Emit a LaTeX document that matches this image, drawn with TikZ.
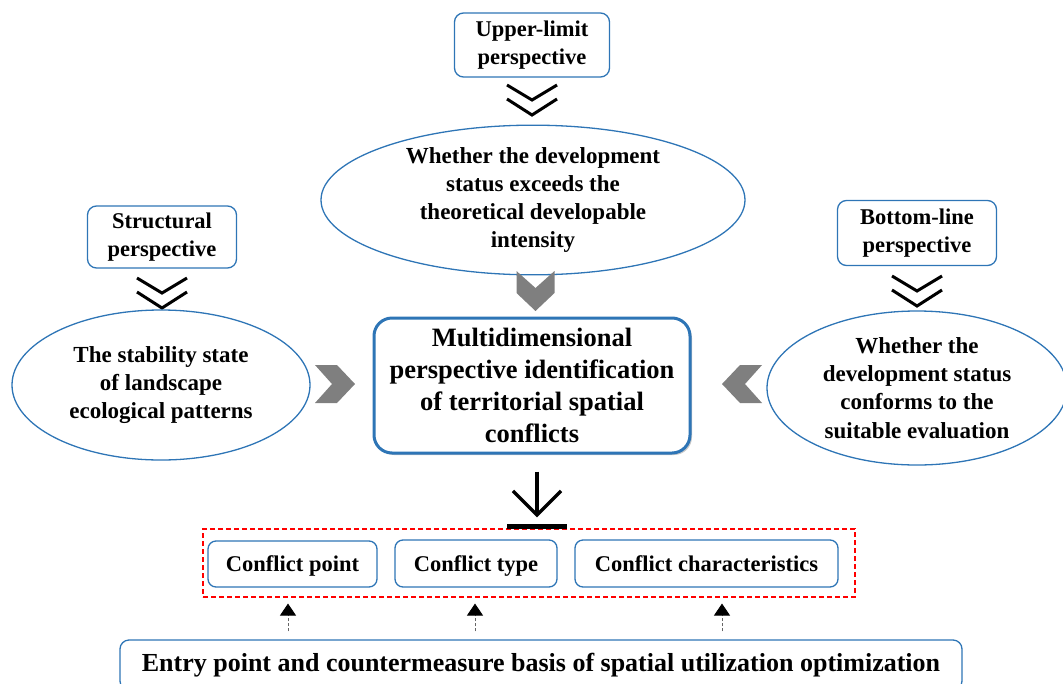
\documentclass[tikz,border=0pt]{standalone}
\usepackage{fontspec}
\setmainfont{Liberation Serif}
\usetikzlibrary{positioning, shapes.geometric, arrows.meta, calc, shadows}
\definecolor{boxblue}{HTML}{2E75B6}
\definecolor{chevgray}{HTML}{7F7F7F}
\definecolor{dashred}{HTML}{FF0000}

\tikzset{
  persbox/.style={draw=boxblue, line width=1.3pt, rounded corners=9pt, align=center,
    font=\fontsize{22.5}{28}\selectfont\bfseries, inner sep=0pt},
  oval/.style={draw=boxblue, ellipse, line width=1.3pt, align=center, inner sep=0pt,
    font=\fontsize{23}{28.3}\selectfont\bfseries},
  mainbox/.style={draw=boxblue, line width=3pt, rounded corners=18pt, align=center, fill=white,
    drop shadow={shadow xshift=2pt, shadow yshift=-2pt, fill=black!35, opacity=0.6},
    font=\fontsize{26.5}{32}\selectfont\bfseries, inner sep=0pt},
  resbox/.style={draw=boxblue, line width=1.3pt, rounded corners=8pt, align=center,
    font=\fontsize{22.5}{26}\selectfont\bfseries, inner sep=0pt, text depth=0pt},
  vee/.style={line width=3pt, black},
  uparrow/.style={densely dashed, black!60, line width=0.8pt,
    -{Triangle[length=12pt, width=16pt, black]}},
  graychev/.pic={\fill[chevgray] (-20,-19) -- (2,-19) -- (20,0) -- (2,19) -- (-20,19) -- (-3,0) -- cycle;}
}
% two stacked vees under a perspective box
\newcommand{\twovee}[2]{%
  \draw[vee] (#1-25,#2) -- (#1,#2+15) -- (#1+25,#2);
  \draw[vee] (#1-25,#2+14) -- (#1,#2+30) -- (#1+25,#2+14);}

\begin{document}
\begin{tikzpicture}[x=1pt, y=-1pt]
  \useasboundingbox (0,0) rectangle (1063,683);
  % perspectives
  \node[persbox, minimum width=155pt, minimum height=64pt] (upper) at (532,45) {Upper-limit\\perspective};
  \node[persbox, minimum width=149pt, minimum height=62pt] (struct) at (162,237) {Structural\\perspective};
  \node[persbox, minimum width=159pt, minimum height=65pt] (bottomline) at (917,233) {Bottom-line\\perspective};
  \twovee{532}{85}
  \twovee{162}{278}
  \twovee{917}{276}
  % ovals
  \node[oval, minimum width=424pt, minimum height=144pt] (exceed) at (533,200)
    {Whether the development\\status exceeds the\\theoretical developable\\intensity};
  \node[oval, minimum width=298pt, minimum height=150pt] (stable) at (161,385)
    {The stability state\\of landscape\\ecological patterns};
  \node[oval, minimum width=300pt, minimum height=154pt] (conform) at (917,388)
    {Whether the\\development status\\conforms to the\\suitable evaluation};
  % centre
  \node[mainbox, minimum width=316pt, minimum height=135pt] (multi) at (532,385.5)
    {Multidimensional\\perspective identification\\of territorial spatial\\conflicts};
  \pic[rotate=-90] at (535.5,291) {graychev};
  \pic at (335,384) {graychev};
  \pic[rotate=180] at (742,384) {graychev};
  % results
  \node[draw=dashred, dash pattern=on 5pt off 3pt, line width=1.1pt, minimum width=652pt, minimum height=68pt] (results) at (529,563) {};
  \node[resbox, minimum width=169pt, minimum height=46pt] (cpoint) at (292.5,564) {Conflict point};
  \node[resbox, minimum width=162pt, minimum height=47pt] (ctype) at (476,563.5) {Conflict type};
  \node[resbox, minimum width=263pt, minimum height=47pt] (cchar) at (706.5,563.5) {Conflict characteristics};
  \draw[line width=3.5pt, shorten <=17pt, shorten >=11pt, -{Straight Barb[length=24pt, width=48pt]}]
    (multi.south -| 537,0) -- (results.north -| 537,0);
  \draw[line width=5pt] ($(results.north)+(-22,-2)$) -- ($(results.north)+(38,-2)$);
  % basis
  \node[draw=boxblue, line width=1.3pt, rounded corners=9pt, minimum width=842pt, minimum height=50pt,
    font=\fontsize{26}{30}\selectfont\bfseries] (basis) at (541,665)
    {Entry point and countermeasure basis of spatial utilization optimization};
  \foreach \ax in {288,475,722}
    \draw[uparrow, shorten <=8pt, shorten >=6pt] (basis.north -| \ax,0) -- (results.south -| \ax,0);
\end{tikzpicture}
\end{document}
